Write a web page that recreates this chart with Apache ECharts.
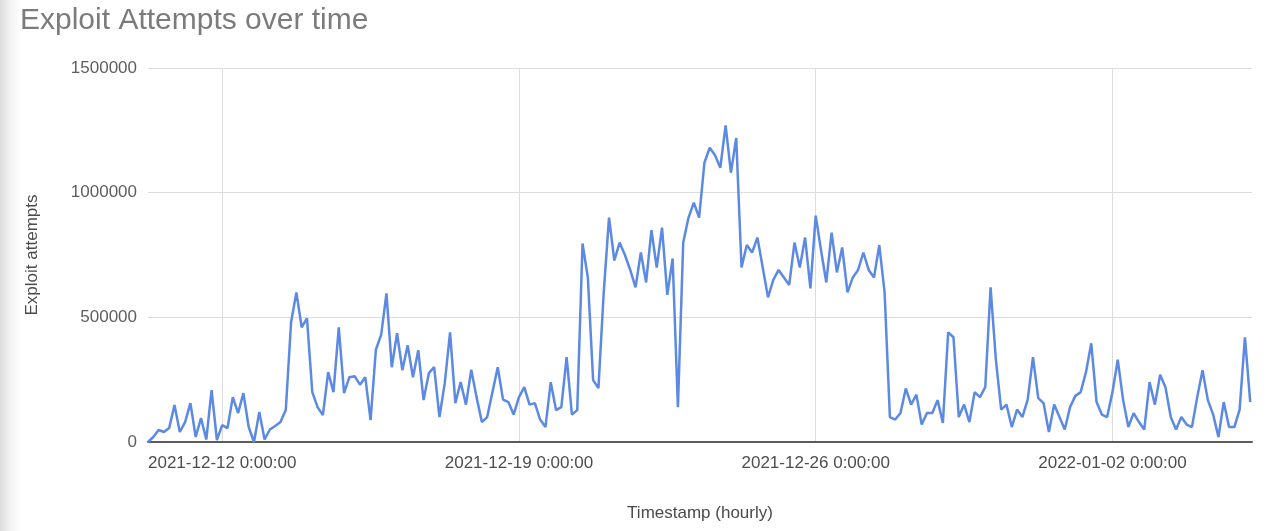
<!DOCTYPE html>
<html>
<head>
<meta charset="utf-8">
<script src="https://cdn.jsdelivr.net/npm/echarts@6/dist/echarts.min.js"></script>
<style>
  html, body {
    margin: 0;
    padding: 0;
    width: 1280px;
    height: 531px;
    background: linear-gradient(to right, #dcdcdc 0px, #f2f2f2 10px, #ffffff 22px);
  }
  #chart {
    width: 1280px;
    height: 531px;
  }
</style>
</head>
<body>
<div id="chart"></div>
<script>
  // hourly buckets, read every 3 hours from the picture
  var startTime = Date.UTC(2021, 11, 10, 6, 0, 0);
  var stepHours = 3;
  var attempts = [
    0, 20000, 48000, 40000, 56000, 148000, 40000, 80000, 156000, 20000,
    96000, 10000, 208000, 8000, 68000, 56000, 180000, 116000, 196000, 60000,
    0, 120000, 10000, 50000, 64000, 80000, 128000, 480000, 600000, 460000,
    496000, 200000, 140000, 108000, 280000, 200000, 460000, 196000, 260000, 264000,
    230000, 260000, 88000, 370000, 430000, 596000, 300000, 436000, 288000, 388000,
    260000, 368000, 168000, 276000, 300000, 100000, 236000, 440000, 156000, 240000,
    150000, 290000, 180000, 80000, 100000, 200000, 300000, 170000, 160000, 110000,
    180000, 220000, 150000, 156000, 90000, 60000, 240000, 128000, 140000, 340000,
    110000, 128000, 796000, 660000, 248000, 216000, 600000, 900000, 728000, 800000,
    750000, 690000, 620000, 760000, 640000, 850000, 700000, 860000, 590000, 736000,
    140000, 800000, 900000, 960000, 900000, 1120000, 1180000, 1150000, 1100000, 1270000,
    1080000, 1220000, 700000, 790000, 760000, 820000, 700000, 580000, 650000, 690000,
    660000, 630000, 800000, 700000, 820000, 616000, 908000, 770000, 640000, 840000,
    680000, 780000, 600000, 660000, 690000, 760000, 690000, 660000, 790000, 600000,
    100000, 90000, 116000, 215000, 150000, 190000, 70000, 116000, 116000, 168000,
    76000, 440000, 420000, 100000, 150000, 80000, 200000, 180000, 220000, 620000,
    330000, 130000, 150000, 60000, 130000, 100000, 170000, 340000, 176000, 156000,
    40000, 150000, 100000, 50000, 140000, 185000, 200000, 280000, 396000, 160000,
    110000, 100000, 200000, 330000, 170000, 60000, 116000, 80000, 50000, 240000,
    150000, 270000, 220000, 100000, 50000, 100000, 70000, 60000, 180000, 288000,
    168000, 110000, 20000, 160000, 60000, 60000, 130000, 420000, 160000
  ];
  var xTicks = [
    Date.UTC(2021, 11, 12), Date.UTC(2021, 11, 19),
    Date.UTC(2021, 11, 26), Date.UTC(2022, 0, 2)
  ];
  var xTickLabels = ['2021-12-12 0:00:00', '2021-12-19 0:00:00', '2021-12-26 0:00:00', '2022-01-02 0:00:00'];
  var xMin = Date.UTC(2021, 11, 10, 6, 0, 0);
  var xMax = Date.UTC(2022, 0, 5, 7, 0, 0);

  var chart = echarts.init(document.getElementById('chart'));

  var seriesData = attempts.map(function (v, i) {
    return [startTime + i * stepHours * 3600 * 1000, v];
  });

  var font = 'Liberation Sans, Arial, sans-serif';
  var option = {
    backgroundColor: 'transparent',
    animation: false,
    textStyle: { fontFamily: font },
    title: {
      text: 'Exploit Attempts over time',
      left: 15,
      top: 1,
      textStyle: {
        fontSize: 30,
        fontWeight: 'normal',
        color: '#7b7b7b',
        fontFamily: font
      }
    },
    grid: {
      left: 148,
      right: 28,
      top: 68,
      bottom: 89,
      containLabel: false
    },
    xAxis: {
      type: 'value',
      min: xMin,
      max: xMax,
      name: 'Timestamp (hourly)',
      nameLocation: 'middle',
      nameGap: 63,
      nameTextStyle: { fontSize: 17, color: '#4a4a4a' },
      axisLine: { show: true, lineStyle: { color: '#5c5c5c', width: 2 } },
      axisTick: { show: false, customValues: xTicks },
      axisLabel: {
        customValues: xTicks,
        margin: 13,
        fontSize: 17,
        color: '#4e4e4e',
        formatter: function (value) {
          var idx = xTicks.indexOf(value);
          return idx >= 0 ? xTickLabels[idx] : '';
        }
      },
      splitLine: { show: true, lineStyle: { color: '#dcdcdc', width: 1 } }
    },
    yAxis: {
      type: 'value',
      min: 0,
      max: 1500000,
      interval: 500000,
      name: 'Exploit attempts',
      nameLocation: 'middle',
      nameGap: 107,
      nameRotate: 90,
      nameTextStyle: { fontSize: 17, color: '#4a4a4a' },
      axisLine: { show: false },
      axisTick: { show: false },
      axisLabel: {
        margin: 11,
        fontSize: 17,
        color: '#5e5e5e',
        formatter: function (value) { return String(value); }
      },
      splitLine: { lineStyle: { color: '#dcdcdc', width: 1 } }
    },
    series: [
      {
        name: 'Exploit attempts',
        type: 'line',
        data: seriesData,
        showSymbol: false,
        symbol: 'none',
        lineStyle: { color: '#5b89e3', width: 2.5 }
      }
    ]
  };
  chart.setOption(option);
</script>
</body>
</html>
